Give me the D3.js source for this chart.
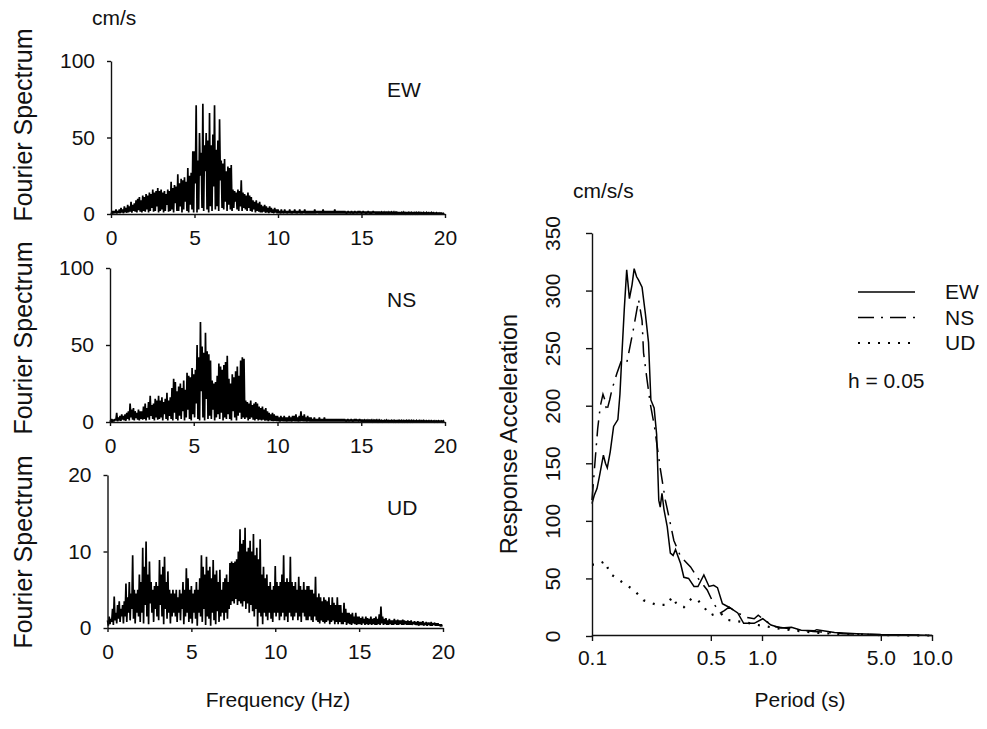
<!DOCTYPE html>
<html>
<head>
<meta charset="utf-8">
<script src="https://cdn.jsdelivr.net/npm/d3@7"></script>
<style>
  body { margin: 0; background: #fff; }
  text { font-family: "Liberation Sans", Arial, sans-serif; fill: #111; }
  .axis path, .axis line { stroke: #111; stroke-width: 1.4; }
</style>
</head>
<body>
<svg width="987" height="729"></svg>
<script>
// Fourier spectra, sampled every 0.1 Hz: peak value and the trough that follows it
var freqStep = 0.1;
var freqTicks = [0, 5, 10, 15, 20];

var ewHi = [
  1,2,2,3,2,3,4,3,5,4,
  6,5,8,6,7,9,10,11,9,12,
  11,13,12,14,13,16,14,15,17,15,
  16,14,15,13,16,15,21,17,19,18,
  26,20,23,22,24,21,30,25,27,41,
  41,71,35,53,40,72,45,53,48,66,
  45,52,71,42,48,62,35,33,36,28,
  31,30,32,16,15,14,16,15,22,14,
  13,12,14,12,11,9,8,9,7,8,
  6,5,6,5,4,5,4,3,4,3,
  3,2,3,2,3,2,2,3,2,2,
  3,2,2,3,2,2,3,2,2,2,
  2,2,3,2,2,2,2,3,2,2,
  2,2,2,2,3,2,2,2,2,2,
  2,1.5,2,1.5,2,1.5,2,1.5,2,2,
  1.5,2,1.5,1.5,2,1.5,1.5,2,1.5,1.5,
  1.5,1.5,1.2,1.5,1.2,1.5,1.2,1.5,1.2,1.2,
  1.2,1.5,1.2,1.2,1,1.2,1,1.2,1,1,
  1,1.2,1,1,1,1,0.8,1,0.8,1,
  0.8,0.8,1,0.8,0.7,0.8,0.6,0.7,0.6,0.5
];
var ewLo = [
  0,0.3,0.5,0.3,0.8,0.5,1,0.5,1,0.8,
  1,1.5,0.8,2,1.5,1,2.5,1.5,1,2,
  1.5,3,1,2,4,1.5,2,5,1,2,
  3,1,2,6,1.5,2,3,1,7,2,
  2,5,1,3,8,2,1,6,3,1,
  20,1,3,25,4,2,28,3,1,5,
  2,18,3,5,2,22,4,3,8,2,
  6,3,2,4,8,3,2,5,2,4,
  3,2,4,2,1.5,3,1,2,1.5,1,
  1,1.5,0.8,1,0.5,1,0.8,0.5,1,0.5,
  0.5,0.3,0.6,0.4,0.5,0.3,0.5,0.4,0.3,0.5,
  0.4,0.3,0.5,0.3,0.4,0.5,0.3,0.4,0.3,0.4,
  0.3,0.4,0.3,0.5,0.3,0.4,0.3,0.3,0.4,0.3,
  0.4,0.3,0.3,0.4,0.3,0.3,0.4,0.3,0.3,0.4,
  0.3,0.3,0.4,0.3,0.3,0.3,0.4,0.3,0.3,0.3,
  0.3,0.4,0.3,0.3,0.3,0.3,0.3,0.4,0.3,0.3,
  0.3,0.3,0.3,0.3,0.4,0.3,0.3,0.3,0.3,0.3,
  0.3,0.3,0.2,0.3,0.3,0.3,0.2,0.3,0.3,0.2,
  0.2,0.3,0.2,0.2,0.3,0.2,0.2,0.2,0.3,0.2,
  0.2,0.2,0.2,0.2,0.2,0.2,0.2,0.2,0.1,0.1
];

var nsHi = [
  1,2,1.5,2,6,3,4,5,4,5,
  6,7,12,8,9,7,6,8,7,7,
  10,12,9,13,17,11,12,15,14,17,
  14,16,13,15,19,14,16,22,28,26,
  20,23,25,22,27,21,32,30,29,35,
  31,34,50,42,65,49,45,58,46,44,
  40,27,25,26,30,38,36,34,37,39,
  43,28,25,31,29,33,36,30,40,42,
  41,14,13,12,14,11,12,13,12,10,
  9,10,8,9,7,6,5,6,5,4,
  4,3,4,3,4,3,3,4,3,4,
  4,5,3,4,7,4,5,3,4,3,
  3,2,3,2,2,3,2,2,3,2,
  2,2,2,2,2,2,2,2,2,2,
  2,1.5,2,1.5,2,1.5,2,2,1.5,2,
  1.5,1.5,1.2,1.5,1.2,1.5,1.2,1.2,1.5,1.2,
  1.2,1.2,1,1.2,1,1.2,1,1.2,1,1,
  1,1.2,1,1,1,1,1.2,1,1,1,
  1,1,0.8,1,0.8,1,0.8,1,0.8,0.8,
  0.8,0.8,0.8,0.7,0.8,0.7,0.8,0.7,0.7,0.8
];
var nsLo = [
  0,0.3,0.5,1,0.5,1,0.8,1.5,1,0.8,
  2,1,3,1.5,1,2.5,1.5,1,2,1.5,
  2,1,3,1.5,4,2,1,3,1.5,2,
  3,1,5,2,1,4,2,1,6,2,
  1,4,2,7,1,3,8,2,1,5,
  3,12,2,1,20,3,1,15,2,4,
  2,8,1,3,5,2,6,1,3,2,
  5,2,1,7,3,1,4,6,2,3,
  2,3,1,2,3,1.5,1,2,1,1.5,
  1,1.5,0.8,1,0.5,1,0.8,0.5,0.8,0.5,
  0.5,0.3,0.6,0.4,0.5,0.3,0.5,0.4,0.3,0.5,
  0.4,0.5,0.3,0.4,0.6,0.4,0.5,0.3,0.4,0.3,
  0.3,0.4,0.3,0.4,0.3,0.4,0.3,0.3,0.4,0.3,
  0.3,0.3,0.4,0.3,0.3,0.4,0.3,0.3,0.3,0.4,
  0.3,0.3,0.3,0.4,0.3,0.3,0.3,0.4,0.3,0.3,
  0.3,0.3,0.3,0.3,0.3,0.3,0.3,0.3,0.3,0.3,
  0.3,0.3,0.2,0.3,0.3,0.3,0.2,0.3,0.3,0.2,
  0.2,0.3,0.2,0.3,0.2,0.2,0.3,0.2,0.2,0.2,
  0.2,0.2,0.2,0.2,0.2,0.2,0.2,0.2,0.2,0.2,
  0.2,0.2,0.2,0.1,0.2,0.1,0.2,0.1,0.1,0.1
];

var udHi = [
  1,1.5,1.2,2.5,4.1,2,3,3.5,2.5,3,
  3.5,5.8,4,6,4.5,9.5,5,4.5,5,7,
  6,10.5,8,11.3,7,8.7,6,5,5.5,6,
  5.5,8.9,7,8,9.3,6,7.4,5,4.5,5,
  4.5,5,4,5,4.5,6,5,7.8,6.5,5,
  5.5,4.5,5,6,5,6.5,9.5,8,7,9.3,
  7.5,8,6.5,8.9,7,7.5,6,7.6,5,6,
  6.5,7,6,8.5,8.7,8.5,8.7,9,10,12.9,
  11,11.5,13.1,10,10.5,11.4,10,12.3,9.5,10.5,
  9,11.6,7,8,6.5,7,5.5,6,5,5.5,
  8.1,6,5.5,6,7,9.5,6,6.5,6,9.3,
  6,5.5,6,5,6.7,5.5,5,6,5,5.5,
  5.5,5,5,4.5,6.7,4,4.5,4,3.5,4,
  3.7,3.5,4,3,4,3.3,3,4,3,3,
  2,3.3,2.5,2,2,1.8,2,1.5,2,1.5,
  1.5,1.3,1.5,1.2,1.5,1.3,1.2,1.5,1.2,1.3,
  1.5,1.2,1.8,2.8,1.5,1.2,1.3,1,1.2,1,
  1,1.2,1,1.1,1,1,1.1,1,0.9,1,
  0.9,1,0.8,0.9,0.8,0.9,0.8,0.8,0.9,0.7,
  0.8,0.7,0.7,0.8,0.6,0.7,0.6,0.6,0.5,0.5
];
var udLo = [
  0.3,0.5,0.8,0.4,1,0.6,1.2,0.8,1.5,0.6,
  1.5,0.8,2,1,2.5,1.2,0.6,2,1.5,0.8,
  2,0.6,3,1.5,0.5,3.2,2,0.8,2.5,1.5,
  1,3,1.5,0.5,2.5,1.2,2,0.6,1.5,2,
  1.5,0.8,2,1,2.5,0.5,1.5,2,0.8,1.2,
  0.6,2,1.2,0.3,2,1.5,0.8,2.5,0.4,1.5,
  1.2,0.3,2,1,0.5,2.2,0.8,1.5,2,1,
  2,1.2,2.5,3,3.5,3.2,3.8,3,3.5,3.2,
  2.8,3.5,2.5,3.2,2,3,2.2,1.5,2.5,0.2,
  2,1.5,0.5,2,1.5,1,2,1.2,0.8,2,
  1.5,2,1,1.5,2,1,1.5,0.8,2,1.5,
  1,1.5,2,1,1.5,0.8,2,1.5,1,1,
  1.5,1,0.8,1.5,1,0.8,0.6,1,0.8,0.6,
  0.8,1,0.5,0.8,1,0.5,0.8,0.5,0.8,0.5,
  0.5,0.8,0.4,0.6,0.5,0.4,0.6,0.5,0.4,0.5,
  0.5,0.4,0.6,0.4,0.5,0.4,0.5,0.4,0.5,0.4,
  0.4,0.5,0.4,0.6,0.4,0.5,0.4,0.4,0.5,0.4,
  0.4,0.5,0.4,0.4,0.5,0.4,0.4,0.5,0.4,0.4,
  0.4,0.4,0.5,0.4,0.4,0.3,0.4,0.4,0.3,0.4,
  0.3,0.4,0.3,0.3,0.4,0.3,0.3,0.3,0.2,0.2
];

// response spectra (h = 0.05), period in s, acceleration in cm/s/s
var ewPeriod = [0.1,0.103,0.107,0.111,0.1167,0.12,0.123,0.128,0.134,0.142,0.146,0.15,0.155,0.16,0.166,0.172,0.177,0.183,0.188,0.197,0.206,0.215,0.222,0.232,0.24,0.247,0.252,0.258,0.265,0.277,0.289,0.3,0.31,0.332,0.347,0.37,0.398,0.42,0.455,0.488,0.52,0.547,0.585,0.64,0.72,0.78,0.9,1.01,1.13,1.29,1.49,1.7,2.04,2.1,2.67,3.6,5,8,10];
var ewAcc    = [115,122,128,140,157,150,146,160,182,188,210,245,285,318,293,305,319,312,309,303,280,255,205,198,175,118,112,124,110,95,72,70,75,63,51,50,43,43,53,43,44,42,28,25,20,11,11,15,9.5,7,7.5,5,4.6,5.5,3,2,1.2,0.8,0.5];

var nsPeriod = [0.1,0.104,0.108,0.112,0.116,0.119,0.122,0.127,0.131,0.14,0.148,0.16,0.175,0.188,0.197,0.201,0.211,0.22,0.233,0.24,0.253,0.27,0.283,0.303,0.332,0.38,0.416,0.476,0.52,0.57,0.6,0.64,0.72,0.82,0.9,0.95,1.05,1.2,1.5,2,3,5,10];
var nsAcc    = [118,150,180,200,210,205,195,205,214,228,238,237,266,292,274,246,222,202,182,168,144,118,104,83,69,60,51,40,28,20,22,25,20,16,15,18,13,8,6,4,2,1,0.5];

var udPeriod = [0.1,0.109,0.119,0.128,0.14,0.153,0.176,0.201,0.22,0.241,0.277,0.296,0.317,0.347,0.37,0.388,0.42,0.455,0.5,0.54,0.57,0.625,0.7,0.8,0.9,1,1.3,2,3,5,10];
var udAcc    = [62,62,65,54,50,46,40,31,29,27,27,34,27,25,30,33,31,25,18,20,20,14,13,12,10,9,6,3,1.5,0.8,0.4];

var periodTicks = [0.1, 0.5, 1, 5, 10];
var periodLabels = ["0.1", "0.5", "1.0", "5.0", "10.0"];
var accTicks = [0, 50, 100, 150, 200, 250, 300, 350];

var svg = d3.select("svg");

// ---------- left: three Fourier spectra ----------
var panels = [
  { name: "EW", hi: ewHi, lo: ewLo, max: 100, ticks: [0, 50, 100], x0: 111, x1: 445, top: 61,  base: 214, titleY: 125, nameY: 97 },
  { name: "NS", hi: nsHi, lo: nsLo, max: 100, ticks: [0, 50, 100], x0: 110, x1: 445, top: 268, base: 422, titleY: 338, nameY: 307 },
  { name: "UD", hi: udHi, lo: udLo, max: 20,  ticks: [0, 10, 20],  x0: 107.5, x1: 443, top: 475, base: 628, titleY: 552, nameY: 515 }
];

panels.forEach(function(p) {
  var x = d3.scaleLinear().domain([0, 20]).range([p.x0, p.x1]);
  var y = d3.scaleLinear().domain([0, p.max]).range([p.base, p.top]);

  // peak then trough, one pair per frequency step
  var pts = [];
  p.hi.forEach(function(v, i) {
    pts.push([i * freqStep, v]);
    pts.push([i * freqStep + freqStep / 2, p.lo[i]]);
  });

  svg.append("path")
    .datum(pts)
    .attr("d", d3.line().x(d => x(d[0])).y(d => y(d[1])))
    .style("fill", "none")
    .style("stroke", "#000")
    .style("stroke-width", 1.7)
    .style("stroke-linejoin", "miter")
    .style("stroke-miterlimit", 2);

  svg.append("g").attr("class", "axis")
    .attr("transform", `translate(${p.x0},0)`)
    .call(d3.axisLeft(y).tickValues(p.ticks).tickSize(4).tickPadding(12).tickSizeOuter(0))
    .call(g => g.selectAll("text").style("font-size", "21px"));

  svg.append("g").attr("class", "axis")
    .attr("transform", `translate(0,${p.base})`)
    .call(d3.axisBottom(x).tickValues(freqTicks).tickSize(4).tickPadding(12).tickSizeOuter(0))
    .call(g => g.selectAll("text").style("font-size", "21px"));

  svg.selectAll(null).data([p]).enter().append("text")
    .attr("x", 387).attr("y", p.nameY)
    .style("font-size", "21px")
    .text(d => d.name);

  svg.append("text")
    .attr("transform", `translate(32,${p.titleY}) rotate(-90)`)
    .attr("text-anchor", "middle")
    .style("font-size", "25px")
    .text("Fourier Spectrum");
});

svg.append("text").attr("x", 92).attr("y", 25).style("font-size", "21px").text("cm/s");
svg.append("text").attr("x", 278).attr("y", 707).attr("text-anchor", "middle")
  .style("font-size", "21px").text("Frequency (Hz)");

// ---------- right: response spectra ----------
var xT = d3.scaleLog().domain([0.1, 10]).range([592, 932]);
var yA = d3.scaleLinear().domain([0, 350]).range([636, 233]);

var series = [
  { name: "EW", period: ewPeriod, acc: ewAcc, dash: null,        width: 1.5 },
  { name: "NS", period: nsPeriod, acc: nsAcc, dash: "16,7,2,7",  width: 1.5 },
  { name: "UD", period: udPeriod, acc: udAcc, dash: "2,8",       width: 2.2 }
];

var respLine = d3.line().x(d => xT(d[0])).y(d => yA(d[1]));

svg.selectAll("path.resp")
  .data(series)
  .enter()
  .append("path")
    .attr("class", "resp")
    .attr("d", s => respLine(s.period.map((t, i) => [t, s.acc[i]])))
    .style("fill", "none")
    .style("stroke", "#000")
    .style("stroke-width", s => s.width)
    .style("stroke-dasharray", s => s.dash);

svg.append("g").attr("class", "axis")
  .attr("transform", "translate(592,0)")
  .call(d3.axisLeft(yA).tickValues(accTicks).tickSize(6).tickSizeOuter(0))
  .call(g => g.selectAll("text")
    .attr("x", 0).attr("y", 0).attr("dy", 0)
    .attr("text-anchor", "middle")
    .attr("transform", "translate(-32,0) rotate(-90)")
    .style("font-size", "21px"));

svg.append("g").attr("class", "axis")
  .attr("transform", "translate(0,635)")
  .call(d3.axisBottom(xT).tickValues(periodTicks).tickFormat((d, i) => periodLabels[i])
    .tickSize(6).tickPadding(9).tickSizeOuter(0))
  .call(g => g.selectAll("text").style("font-size", "21px"));

svg.append("text").attr("x", 573).attr("y", 198).style("font-size", "21px").text("cm/s/s");
svg.append("text").attr("x", 800).attr("y", 707).attr("text-anchor", "middle")
  .style("font-size", "21px").text("Period (s)");
svg.append("text")
  .attr("transform", "translate(517,434) rotate(-90)")
  .attr("text-anchor", "middle")
  .style("font-size", "23.5px")
  .text("Response Acceleration");

// legend
var legend = svg.selectAll("g.legend")
  .data(series)
  .enter()
  .append("g")
    .attr("class", "legend")
    .attr("transform", (d, i) => `translate(858,${292 + i * 25.5})`);

legend.append("line")
  .attr("x1", 0).attr("x2", 57)
  .style("stroke", "#000")
  .style("stroke-width", d => d.width)
  .style("stroke-dasharray", d => d.dash);

legend.append("text")
  .attr("x", 87).attr("y", 7)
  .style("font-size", "21px")
  .text(d => d.name);

svg.append("text").attr("x", 848).attr("y", 388).style("font-size", "21px").text("h = 0.05");
</script>
</body>
</html>
